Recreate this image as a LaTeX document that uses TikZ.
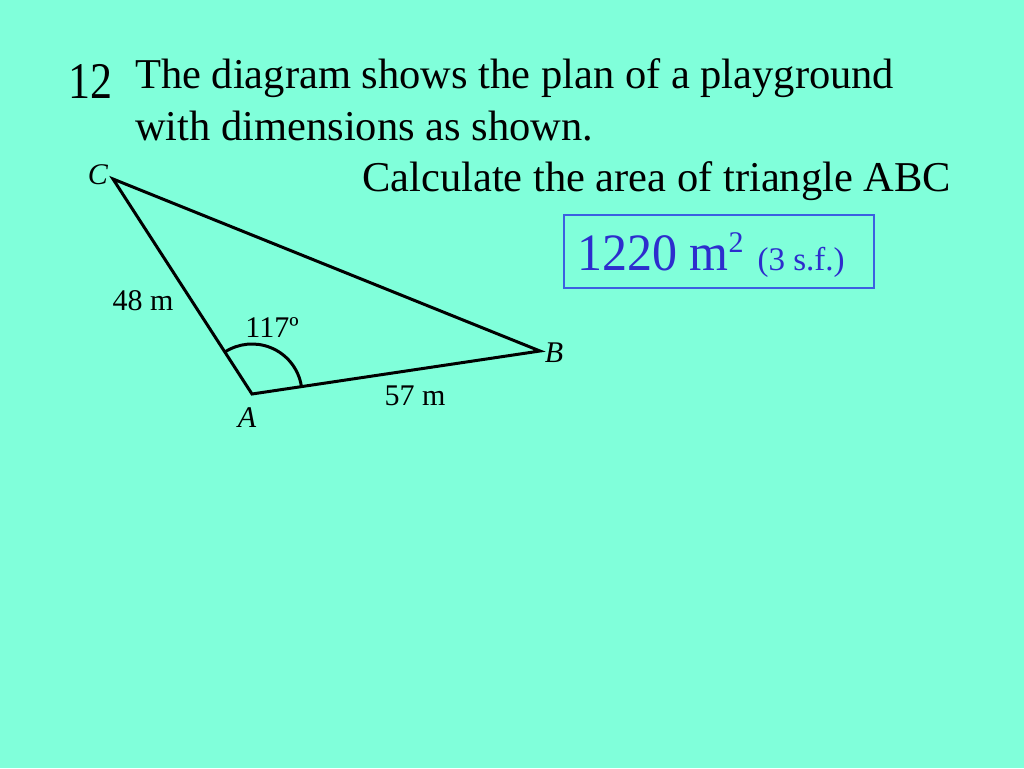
\documentclass[tikz,border=0pt]{standalone}
\usepackage{fontspec}
\setmainfont{Liberation Serif}
\usetikzlibrary{calc}
\definecolor{aquabg}{RGB}{128,255,218}
\definecolor{ansblue}{RGB}{45,45,205}
\definecolor{boxblue}{RGB}{60,95,225}
\tikzset{
  bigtext/.style={anchor=base west,inner sep=0pt,font=\fontsize{42.5}{48}\selectfont},
  sidelabel/.style={inner sep=0pt,font=\fontsize{30}{34}\selectfont},
  vertexlabel/.style={inner sep=0pt,font=\fontsize{30}{34}\selectfont\itshape}
}
\begin{document}
\begin{tikzpicture}[x=1pt,y=-1pt]

		\fill[aquabg] (0,0) rectangle (1024,768);
		\useasboundingbox (0,0) rectangle (1024,768);

		% question text
		\node[bigtext,font=\fontsize{44}{50}\selectfont] (num) at (68,98) {\scalebox{1}[1.17]{12}};
		\node[bigtext] (lineone) at (135,88) {The diagram shows the plan of a playground};
		\node[bigtext] (linetwo) at (135,140) {with dimensions as shown.};
		\node[bigtext] (task) at (362,191) {Calculate the area of triangle ABC};

		% triangle
		\coordinate (A) at (252,394);
		\coordinate (B) at (540,351);
		\coordinate (C) at (113,179);
		\draw[line width=3pt,line join=miter] (A) -- (B) -- (C) -- cycle;
		\draw[line width=3pt] ($(A)+(-8.5:50)$) arc (-8.5:-122.9:50);

		\node[vertexlabel] (labA) at (247,418) {A};
		\node[vertexlabel] (labB) at (554,353) {B};
		\node[vertexlabel] (labC) at (98,175) {C};
		\node[sidelabel] (sideCA) at (143,301) {48 m};
		\node[sidelabel] (sideAB) at (415,396) {57 m};
		\node[sidelabel] (angA) at (272,328) {117º};

		% answer
		\node[draw=boxblue,line width=1.6pt,anchor=north west,minimum width=310pt,minimum height=73pt,
		  inner sep=0pt] (answerbox) at (563,214) {};
		\node[anchor=base west,inner sep=0pt,text=ansblue,font=\fontsize{50}{54}\selectfont] (answer) at (577,270)
		  {\scalebox{1}[1.05]{1220 m}\raisebox{18pt}{\fontsize{30}{32}\selectfont 2}\hspace{14pt}{\fontsize{33}{36}\selectfont(3 s.f.)}};

\end{tikzpicture}
\end{document}
